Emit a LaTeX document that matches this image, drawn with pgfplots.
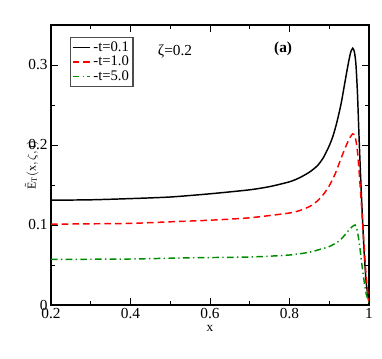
\documentclass[border=0pt]{standalone}
\usepackage{fontspec}
\setmainfont{Liberation Serif}
\usepackage{pgfplots}
\pgfplotsset{compat=1.18}
\definecolor{grn}{RGB}{0,140,0}

\pgfplotstableread{
x      y
0.200  0.131
0.300  0.1315
0.400  0.133
0.500  0.135
0.600  0.139
0.700  0.144
0.750  0.148
0.800  0.154
0.825  0.159
0.850  0.166
0.870  0.174
0.885  0.184
0.900  0.199
0.910  0.212
0.920  0.230
0.930  0.252
0.940  0.280
0.948  0.302
0.954  0.316
0.959  0.321
0.963  0.317
0.967  0.302
0.971  0.265
0.975  0.210
0.979  0.160
0.983  0.115
0.988  0.065
0.993  0.028
1.000  0.003
}\tone

\pgfplotstableread{
x      y
0.200  0.101
0.300  0.1015
0.400  0.102
0.500  0.104
0.600  0.106
0.700  0.109
0.800  0.115
0.825  0.118
0.850  0.123
0.870  0.130
0.885  0.138
0.900  0.149
0.915  0.164
0.925  0.177
0.935  0.190
0.945  0.202
0.953  0.210
0.959  0.214
0.963  0.213
0.967  0.206
0.971  0.192
0.975  0.168
0.979  0.140
0.983  0.110
0.988  0.072
0.993  0.035
1.000  0.003
}\ttwo

\pgfplotstableread{
x      y
0.200  0.057
0.400  0.0575
0.550  0.059
0.700  0.060
0.800  0.0625
0.850  0.066
0.880  0.070
0.900  0.073
0.925  0.080
0.940  0.088
0.950  0.094
0.958  0.098
0.965  0.100
0.969  0.096
0.973  0.086
0.977  0.072
0.983  0.047
0.988  0.029
0.993  0.014
1.000  0.003
}\tthree

\begin{document}
\begin{tikzpicture}
\begin{axis}[
  scale only axis,
  width=238.5pt, height=210pt,
  xmin=0.2, xmax=1, ymin=0, ymax=0.35,
  xtick={0.2,0.4,...,1.0}, minor xtick={0.3,0.5,0.7,0.9},
  ytick={0,0.1,0.2,0.3}, minor ytick={0.05,0.15,0.25},
  tick align=inside,
  major tick length=5pt, minor tick length=3pt,
  every tick/.style={black, line width=0.6pt},
  axis line style={line width=0.8pt},
  /pgf/number format/assume math mode=true,
  tick label style={font=\fontsize{11.5}{13}\selectfont},
  xticklabel style={yshift=1pt},
  yticklabel style={xshift=1pt},
  xlabel={x},
  xlabel style={font=\fontsize{10}{12}\selectfont, yshift=2pt},
  ylabel={$\tilde{\mathrm{E}}_{\mathrm{T}}(\mathrm{x},\zeta,\mathrm{t})$},
  ylabel style={font=\fontsize{9}{11}\selectfont, yshift=-14.5pt},
  legend cell align=left,
  legend style={at={(rel axis cs:0.06,0.957)}, anchor=north west,
    font=\fontsize{11}{11}\selectfont, draw=black!70, line width=0.8pt,
    inner sep=1pt, row sep=-2pt},
  legend image code/.code={\draw[#1] (0pt,0pt) -- (13pt,0pt);},
]
\addplot[black, line width=1.1pt, smooth, tension=0.4] table[x=x,y=y] {\tone};
\addlegendentry{-t=0.1}
\addplot[red, line width=1.1pt, smooth, tension=0.4, dash pattern=on 5pt off 3pt] table[x=x,y=y] {\ttwo};
\addlegendentry{-t=1.0}
\addplot[grn, line width=1.1pt, smooth, tension=0.4, dash pattern=on 5pt off 2.5pt on 1pt off 2.5pt] table[x=x,y=y] {\tthree};
\addlegendentry{-t=5.0}
\node[font=\fontsize{11.5}{13}\selectfont] at (axis cs:0.512,0.3175) {ζ=0.2};
\node[font=\fontsize{11.5}{13}\selectfont\bfseries] at (axis cs:0.784,0.32) {(a)};
\end{axis}
\path (current axis.south west) ++(-38.25pt,-39.75pt) rectangle ++(286.5pt,268.5pt);
\end{tikzpicture}
\end{document}
